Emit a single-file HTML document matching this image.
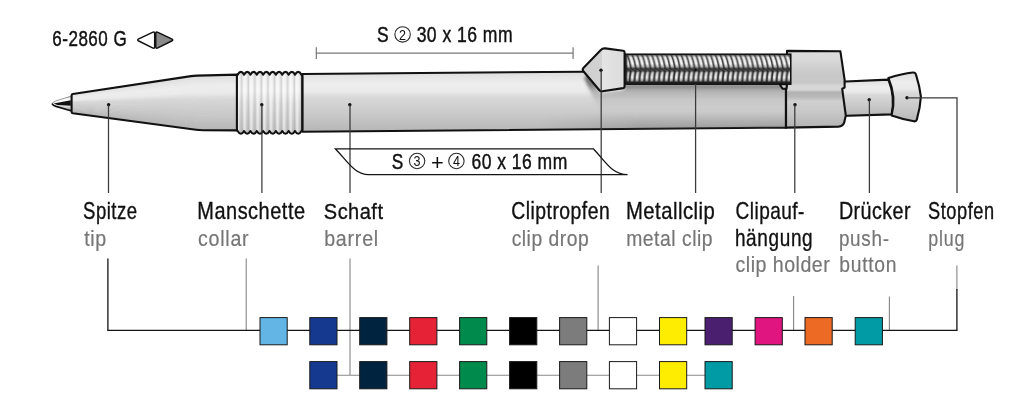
<!DOCTYPE html>
<html lang="de"><head><meta charset="utf-8"><title>6-2860 G</title>
<style>
html,body{margin:0;padding:0;background:#fff}
body{width:1024px;height:408px;overflow:hidden}
svg{display:block}
#labels{opacity:0.999}
text{font-family:"Liberation Sans",sans-serif;white-space:pre}
.k{fill:#111;stroke:#111;stroke-width:0.35px}
.kd{fill:#111;stroke:#111;stroke-width:0.45px}
.p{fill:#111}
.c{fill:#111}
.g{fill:#767676;stroke:#767676;stroke-width:0.22px}
.ln{stroke:#3a3a3a;stroke-width:1.25;fill:none}
.lk{stroke:#151515;stroke-width:1.3;fill:none}
.lg{stroke:#888;stroke-width:1.1;fill:none}
.lg2{stroke:#868686;stroke-width:1.1;fill:none}
.ol{stroke:#111;stroke-width:2.1;stroke-linejoin:round;stroke-linecap:round}
.sw{stroke:#1a1a1a;stroke-width:1}
</style></head><body>
<svg width="1024" height="408" viewBox="0 0 1024 408">
<defs>
<linearGradient id="gb" x1="0" y1="0" x2="0" y2="1">
<stop offset="0" stop-color="#dadada"/><stop offset="0.08" stop-color="#e4e4e4"/><stop offset="0.2" stop-color="#ededed"/><stop offset="0.33" stop-color="#eaeaea"/>
<stop offset="0.43" stop-color="#d8d8d8"/><stop offset="0.7" stop-color="#cacaca"/><stop offset="1" stop-color="#b6b6b6"/>
</linearGradient>
<linearGradient id="gnib" gradientUnits="userSpaceOnUse" x1="0" y1="96" x2="0" y2="111">
<stop offset="0" stop-color="#b0b0b0"/><stop offset="0.18" stop-color="#f6f6f6"/><stop offset="0.3" stop-color="#ffffff"/><stop offset="0.62" stop-color="#e8e8e8"/><stop offset="0.8" stop-color="#c4c4c4"/><stop offset="1" stop-color="#888"/>
</linearGradient>
<linearGradient id="gcol" x1="0" y1="0" x2="0" y2="1">
<stop offset="0" stop-color="#e8e8e8"/><stop offset="0.3" stop-color="#f2f2f2"/>
<stop offset="0.5" stop-color="#dedede"/><stop offset="1" stop-color="#c0c0c0"/>
</linearGradient>
<linearGradient id="ghold" gradientUnits="userSpaceOnUse" x1="0" y1="51" x2="0" y2="127">
<stop offset="0" stop-color="#dddddd"/><stop offset="0.12" stop-color="#d8d8d8"/><stop offset="0.3" stop-color="#c8c8c8"/><stop offset="0.42" stop-color="#c8c8c8"/>
<stop offset="0.46" stop-color="#d8d8d8"/><stop offset="0.51" stop-color="#d6d6d6"/><stop offset="0.545" stop-color="#b2b2b2"/><stop offset="0.6" stop-color="#b8b8b8"/>
<stop offset="0.66" stop-color="#d0d0d0"/><stop offset="0.8" stop-color="#c8c8c8"/><stop offset="1" stop-color="#b4b4b4"/>
</linearGradient>
<linearGradient id="gdrop" x1="0" y1="0" x2="1" y2="0">
<stop offset="0" stop-color="#cfcfcf"/><stop offset="0.45" stop-color="#d2d2d2"/><stop offset="0.46" stop-color="#e4e4e4"/><stop offset="1" stop-color="#dcdcdc"/>
</linearGradient>
<linearGradient id="gshadow" gradientUnits="userSpaceOnUse" x1="0" y1="84" x2="0" y2="118">
<stop offset="0" stop-color="#444" stop-opacity="0.7"/><stop offset="0.2" stop-color="#555" stop-opacity="0.4"/><stop offset="0.45" stop-color="#666" stop-opacity="0.14"/><stop offset="0.7" stop-color="#777" stop-opacity="0.04"/><stop offset="1" stop-color="#888" stop-opacity="0"/>
</linearGradient>
<linearGradient id="gshadow3" gradientUnits="userSpaceOnUse" x1="0" y1="112" x2="0" y2="129">
<stop offset="0" stop-color="#555" stop-opacity="0"/><stop offset="1" stop-color="#555" stop-opacity="0.28"/>
</linearGradient>
<linearGradient id="gshadow2" gradientUnits="userSpaceOnUse" x1="588" y1="92" x2="600" y2="84">
<stop offset="0" stop-color="#666" stop-opacity="0"/><stop offset="1" stop-color="#555" stop-opacity="0.5"/>
</linearGradient>
<linearGradient id="gfade" gradientUnits="userSpaceOnUse" x1="540" y1="0" x2="640" y2="0"><stop offset="0" stop-color="#000"/><stop offset="1" stop-color="#fff"/></linearGradient>
<mask id="mfade" maskUnits="userSpaceOnUse" x="540" y="110" width="252" height="22"><rect x="540" y="110" width="252" height="22" fill="url(#gfade)"/></mask>
<filter id="blur" x="-5%" y="-20%" width="110%" height="140%"><feGaussianBlur stdDeviation="1.6"/></filter>
<pattern id="ridge" x="236.7" y="0" width="6.57" height="10" patternUnits="userSpaceOnUse">
<rect x="0" y="0" width="6.57" height="10" fill="#fff" fill-opacity="0"/>
<rect x="0.3" y="0" width="2.2" height="10" fill="#fff" fill-opacity="0.55"/>
<rect x="4.2" y="0" width="1.6" height="10" fill="#999" fill-opacity="0.35"/>
</pattern>
<pattern id="coilA" x="625" y="55.2" width="4.9" height="14" patternUnits="userSpaceOnUse">
<rect width="4.9" height="14" fill="#3a3a3a"/>
<path d="M-5.3,-0.5 C-3.6,3 -2,9 -1.3,14.5" stroke="#a8a8a8" stroke-width="3.6" fill="none"/>
<path d="M-0.4,-0.5 C1.3,3 2.9,9 3.6,14.5" stroke="#a8a8a8" stroke-width="3.6" fill="none"/>
<path d="M4.5,-0.5 C6.2,3 7.8,9 8.5,14.5" stroke="#a8a8a8" stroke-width="3.6" fill="none"/>
<path d="M-5.1,-0.5 C-3.4,3 -1.8,9 -1.1,14.5" stroke="#fcfcfc" stroke-width="2.3" fill="none"/>
<path d="M-0.2,-0.5 C1.5,3 3.1,9 3.8,14.5" stroke="#fcfcfc" stroke-width="2.3" fill="none"/>
<path d="M4.7,-0.5 C6.4,3 8,9 8.7,14.5" stroke="#fcfcfc" stroke-width="2.3" fill="none"/>
</pattern>
<pattern id="coilB" x="625" y="70.6" width="4.9" height="11.4" patternUnits="userSpaceOnUse">
<rect width="4.9" height="11.4" fill="#2a2a2a"/>
<path d="M3.5,-0.5 C2.6,3.5 2.2,8 2.1,12" stroke="#9c9c9c" stroke-width="3.4" fill="none"/>
<path d="M3.4,-0.5 C2.5,3.5 2.1,8 2,12" stroke="#f8f8f8" stroke-width="2" fill="none"/>
</pattern>
<linearGradient id="gcoil" x1="0" y1="0" x2="0" y2="1">
<stop offset="0" stop-color="#222" stop-opacity="0.6"/><stop offset="0.15" stop-color="#333" stop-opacity="0.1"/><stop offset="0.6" stop-color="#333" stop-opacity="0"/><stop offset="0.8" stop-color="#333" stop-opacity="0.3"/><stop offset="1" stop-color="#1a1a1a" stop-opacity="0.95"/>
</linearGradient>
<linearGradient id="gcoil2" x1="0" y1="0" x2="0" y2="1">
<stop offset="0" stop-color="#1a1a1a" stop-opacity="0.9"/><stop offset="0.2" stop-color="#333" stop-opacity="0.2"/><stop offset="0.6" stop-color="#333" stop-opacity="0"/><stop offset="0.85" stop-color="#333" stop-opacity="0.35"/><stop offset="1" stop-color="#1a1a1a" stop-opacity="0.9"/>
</linearGradient>
</defs>
<rect width="1024" height="408" fill="#fff"/>

<g id="pen">
<path fill="url(#gnib)" d="M70.8,96.2 L56,100.9 Q51.8,102.6 52,103.8 Q52.2,105.2 56,106.5 L70.8,110.9 Z"/>
<path fill="#111" d="M53.6,103.4 L70.8,100.2 L70.8,105.8 L57.5,104.9 Z"/>
<path fill="none" stroke="#8e8e8e" stroke-width="0.9" d="M70.8,96.2 L56,100.9 Q51.8,102.6 52,103.8"/>
<path fill="none" stroke="#111" stroke-width="1.7" stroke-linecap="round" d="M52.4,104.2 Q53,105.4 56,106.4 L70.8,110.7"/>
<polygon fill="#dcdcdc" points="71.6,93.90 120.0,86.56 165.0,79.74 193.6,75.40 199.0,75.26 237.2,74.30 237.2,77.05 199.0,77.97 193.6,78.07 165.0,82.09 120.0,88.42 71.6,95.23"/>
<polygon fill="#e1e1e1" points="71.6,94.63 120.0,87.82 165.0,81.49 193.6,77.47 199.0,77.37 237.2,76.45 237.2,79.19 199.0,80.07 193.6,80.14 165.0,83.84 120.0,89.68 71.6,95.95"/>
<polygon fill="#e5e5e5" points="71.6,95.35 120.0,89.08 165.0,83.24 193.6,79.54 199.0,79.47 237.2,78.59 237.2,81.34 199.0,82.17 193.6,82.20 165.0,85.60 120.0,90.94 71.6,96.68"/>
<polygon fill="#e8e8e8" points="71.6,96.08 120.0,90.34 165.0,85.00 193.6,81.60 199.0,81.57 237.2,80.74 237.2,83.48 199.0,84.27 193.6,84.27 165.0,87.35 120.0,92.20 71.6,97.41"/>
<polygon fill="#ebebeb" points="71.6,96.81 120.0,91.60 165.0,86.75 193.6,83.67 199.0,83.67 237.2,82.88 237.2,85.63 199.0,86.37 193.6,86.34 165.0,89.11 120.0,93.46 71.6,98.13"/>
<polygon fill="#ededed" points="71.6,97.53 120.0,92.86 165.0,88.51 193.6,85.74 199.0,85.77 237.2,85.03 237.2,87.78 199.0,88.47 193.6,88.41 165.0,90.86 120.0,94.72 71.6,98.86"/>
<polygon fill="#ececec" points="71.6,98.26 120.0,94.12 165.0,90.26 193.6,87.81 199.0,87.87 237.2,87.18 237.2,89.92 199.0,90.57 193.6,90.48 165.0,92.61 120.0,95.97 71.6,99.59"/>
<polygon fill="#ebebeb" points="71.6,98.99 120.0,95.37 165.0,92.01 193.6,89.88 199.0,89.97 237.2,89.32 237.2,92.07 199.0,92.67 193.6,92.55 165.0,94.37 120.0,97.23 71.6,100.32"/>
<polygon fill="#eaeaea" points="71.6,99.72 120.0,96.63 165.0,93.77 193.6,91.95 199.0,92.07 237.2,91.47 237.2,94.22 199.0,94.78 193.6,94.61 165.0,96.12 120.0,98.49 71.6,101.04"/>
<polygon fill="#e4e4e4" points="71.6,100.44 120.0,97.89 165.0,95.52 193.6,94.01 199.0,94.18 237.2,93.62 237.2,96.36 199.0,96.88 193.6,96.68 165.0,97.88 120.0,99.75 71.6,101.77"/>
<polygon fill="#dddddd" points="71.6,101.17 120.0,99.15 165.0,97.28 193.6,96.08 199.0,96.28 237.2,95.76 237.2,98.51 199.0,98.98 193.6,98.75 165.0,99.63 120.0,101.01 71.6,102.50"/>
<polygon fill="#d7d7d7" points="71.6,101.90 120.0,100.41 165.0,99.03 193.6,98.15 199.0,98.38 237.2,97.91 237.2,100.65 199.0,101.08 193.6,100.82 165.0,101.38 120.0,102.27 71.6,103.22"/>
<polygon fill="#d5d5d5" points="71.6,102.62 120.0,101.67 165.0,100.78 193.6,100.22 199.0,100.48 237.2,100.05 237.2,102.80 199.0,103.18 193.6,102.89 165.0,103.14 120.0,103.53 71.6,103.95"/>
<polygon fill="#d3d3d3" points="71.6,103.35 120.0,102.93 165.0,102.54 193.6,102.29 199.0,102.58 237.2,102.20 237.2,104.95 199.0,105.28 193.6,104.96 165.0,104.89 120.0,104.79 71.6,104.68"/>
<polygon fill="#d1d1d1" points="71.6,104.08 120.0,104.19 165.0,104.29 193.6,104.36 199.0,104.68 237.2,104.35 237.2,107.09 199.0,107.38 193.6,107.02 165.0,106.64 120.0,106.05 71.6,105.40"/>
<polygon fill="#cfcfcf" points="71.6,104.80 120.0,105.45 165.0,106.04 193.6,106.42 199.0,106.78 237.2,106.49 237.2,109.24 199.0,109.49 193.6,109.09 165.0,108.40 120.0,107.31 71.6,106.13"/>
<polygon fill="#cdcdcd" points="71.6,105.53 120.0,106.71 165.0,107.80 193.6,108.49 199.0,108.89 237.2,108.64 237.2,111.38 199.0,111.59 193.6,111.16 165.0,110.15 120.0,108.56 71.6,106.86"/>
<polygon fill="#cbcbcb" points="71.6,106.26 120.0,107.96 165.0,109.55 193.6,110.56 199.0,110.99 237.2,110.78 237.2,113.53 199.0,113.69 193.6,113.23 165.0,111.91 120.0,109.82 71.6,107.58"/>
<polygon fill="#c9c9c9" points="71.6,106.98 120.0,109.22 165.0,111.31 193.6,112.63 199.0,113.09 237.2,112.93 237.2,115.68 199.0,115.79 193.6,115.30 165.0,113.66 120.0,111.08 71.6,108.31"/>
<polygon fill="#c7c7c7" points="71.6,107.71 120.0,110.48 165.0,113.06 193.6,114.70 199.0,115.19 237.2,115.08 237.2,117.82 199.0,117.89 193.6,117.37 165.0,115.41 120.0,112.34 71.6,109.04"/>
<polygon fill="#c4c4c4" points="71.6,108.44 120.0,111.74 165.0,114.81 193.6,116.77 199.0,117.29 237.2,117.22 237.2,119.97 199.0,119.99 193.6,119.43 165.0,117.17 120.0,113.60 71.6,109.77"/>
<polygon fill="#c2c2c2" points="71.6,109.17 120.0,113.00 165.0,116.57 193.6,118.83 199.0,119.39 237.2,119.37 237.2,122.12 199.0,122.09 193.6,121.50 165.0,118.92 120.0,114.86 71.6,110.49"/>
<polygon fill="#bfbfbf" points="71.6,109.89 120.0,114.26 165.0,118.32 193.6,120.90 199.0,121.49 237.2,121.52 237.2,124.26 199.0,124.20 193.6,123.57 165.0,120.67 120.0,116.12 71.6,111.22"/>
<polygon fill="#bcbcbc" points="71.6,110.62 120.0,115.52 165.0,120.07 193.6,122.97 199.0,123.60 237.2,123.66 237.2,126.41 199.0,126.30 193.6,125.64 165.0,122.43 120.0,117.38 71.6,111.95"/>
<polygon fill="#bababa" points="71.6,111.35 120.0,116.78 165.0,121.83 193.6,125.04 199.0,125.70 237.2,125.81 237.2,128.55 199.0,128.40 193.6,127.71 165.0,124.18 120.0,118.64 71.6,112.67"/>
<polygon fill="#b7b7b7" points="71.6,112.07 120.0,118.04 165.0,123.58 193.6,127.11 199.0,127.80 237.2,127.95 237.2,130.70 199.0,130.50 193.6,129.78 165.0,125.94 120.0,119.90 71.6,113.40"/>
<path class="ol" fill="none" d="M71.6,95.4 Q71.6,94.3 72.8,94 L191,76.1 Q193.6,75.7 197,75.6 L237.2,74.6 L237.2,130.4 L203,130.2 Q199,130.2 196,129.8 L72.8,113.3 Q71.6,113 71.6,111.9 Z"/>
<path class="ol" fill="url(#gb)" d="M302.4,74 L583,71.7 L790,71.7 L790,88 L786,88.6 L786,127.6 L302.4,131.7 Z"/>
<clipPath id="cpb"><path d="M302.4,74 L583,71.7 L790,71.7 L790,88 L786,88.6 L786,127.6 L302.4,131.7 Z"/></clipPath>
<g clip-path="url(#cpb)"><path filter="url(#blur)" d="M588,74 L601,93 L624,90 L624,84 L788,84 L788,118 L604,118 Q594,100 584,78 Z" fill="url(#gshadow)"/><rect x="540" y="112" width="250" height="18" fill="url(#gshadow3)" mask="url(#mfade)"/></g>
<path fill="url(#gcol)" d="M236.9,76.6 Q236.9,74.6 237.70000000000002,74.6 Q240.89,69.20 244.07,74.6 Q247.26,69.20 250.44,74.6 Q253.63,69.20 256.81,74.6 Q260.00,69.20 263.18,74.6 Q266.37,69.20 269.55,74.6 Q272.74,69.20 275.92,74.6 Q279.11,69.20 282.29,74.6 Q285.48,69.20 288.66,74.6 Q291.85,69.20 295.03,74.6 Q298.21,69.20 301.40,74.6 Q302.2,74.6 302.2,76.6 L302.2,129.0 Q302.2,131.0 301.4,131.0 Q298.21,136.60 295.03,131.0 Q291.84,136.60 288.66,131.0 Q285.47,136.60 282.29,131.0 Q279.10,136.60 275.92,131.0 Q272.73,136.60 269.55,131.0 Q266.37,136.60 263.18,131.0 Q260.00,136.60 256.81,131.0 Q253.62,136.60 250.44,131.0 Q247.25,136.60 244.07,131.0 Q240.88,136.60 237.70,131.0 Q236.9,131.0 236.9,129.0 Z"/>
<path fill="url(#ridge)" d="M236.9,76.6 Q236.9,74.6 237.70000000000002,74.6 Q240.89,69.20 244.07,74.6 Q247.26,69.20 250.44,74.6 Q253.63,69.20 256.81,74.6 Q260.00,69.20 263.18,74.6 Q266.37,69.20 269.55,74.6 Q272.74,69.20 275.92,74.6 Q279.11,69.20 282.29,74.6 Q285.48,69.20 288.66,74.6 Q291.85,69.20 295.03,74.6 Q298.21,69.20 301.40,74.6 Q302.2,74.6 302.2,76.6 L302.2,129.0 Q302.2,131.0 301.4,131.0 Q298.21,136.60 295.03,131.0 Q291.84,136.60 288.66,131.0 Q285.47,136.60 282.29,131.0 Q279.10,136.60 275.92,131.0 Q272.73,136.60 269.55,131.0 Q266.37,136.60 263.18,131.0 Q260.00,136.60 256.81,131.0 Q253.62,136.60 250.44,131.0 Q247.25,136.60 244.07,131.0 Q240.88,136.60 237.70,131.0 Q236.9,131.0 236.9,129.0 Z"/>
<path class="ol" fill="none" d="M236.9,76.6 Q236.9,74.6 237.70000000000002,74.6 Q240.89,69.20 244.07,74.6 Q247.26,69.20 250.44,74.6 Q253.63,69.20 256.81,74.6 Q260.00,69.20 263.18,74.6 Q266.37,69.20 269.55,74.6 Q272.74,69.20 275.92,74.6 Q279.11,69.20 282.29,74.6 Q285.48,69.20 288.66,74.6 Q291.85,69.20 295.03,74.6 Q298.21,69.20 301.40,74.6 Q302.2,74.6 302.2,76.6 L302.2,129.0 Q302.2,131.0 301.4,131.0 Q298.21,136.60 295.03,131.0 Q291.84,136.60 288.66,131.0 Q285.47,136.60 282.29,131.0 Q279.10,136.60 275.92,131.0 Q272.73,136.60 269.55,131.0 Q266.37,136.60 263.18,131.0 Q260.00,136.60 256.81,131.0 Q253.62,136.60 250.44,131.0 Q247.25,136.60 244.07,131.0 Q240.88,136.60 237.70,131.0 Q236.9,131.0 236.9,129.0 Z"/>
<path class="ol" fill="url(#gb)" d="M840,81.8 L888.4,79.6 Q895.4,97 891.6,114.4 L840,116 Z"/>
<path class="ol" fill="url(#ghold)" d="M787,50.9 L840.4,51.3 L844.6,79.6 L844.6,87.6 L842.2,88.8 L845.8,115.5 L844.2,122.4 Q843,126.3 838.4,126.6 L786,127.6 L786,88.6 L787,84 Z"/>
<path class="ol" fill="none" d="M786,88.6 L786,127.6"/>
<path class="ol" stroke-width="1.4" fill="#d4d4d4" d="M779.6,84.2 L787,84.2 L786.4,88.8 L782.6,88.8 Z"/>
<rect x="624.6" y="54.2" width="166.2" height="30" fill="#222"/>
<rect x="625" y="55.2" width="165" height="14" fill="url(#coilA)"/>
<rect x="625" y="55.2" width="165" height="14" fill="url(#gcoil)"/>
<rect x="625" y="70.6" width="165" height="11.4" fill="url(#coilB)"/>
<rect x="625" y="70.6" width="165" height="11.4" fill="url(#gcoil2)"/>
<rect x="624.6" y="54.2" width="166.2" height="30" fill="none" stroke="#111" stroke-width="1.5"/>
<rect x="625" y="55" width="2.4" height="28.4" fill="#222" fill-opacity="0.8"/>
<path class="ol" fill="url(#gdrop)" d="M583.4,67.9 L600.8,50 Q602.6,48.1 605.2,48.4 L623.2,50.7 Q624.6,50.9 624.6,52.2 L624.6,86.6 Q624.6,87.8 623.2,88.1 L602.4,91.3 Q600.4,91.6 599.2,90 L583.4,71.2 Q582,69.5 583.4,67.9 Z"/>
<path class="ol" fill="url(#gb)" d="M888.4,78 Q902,73.6 912.8,72.5 Q915.4,72.3 916,74.6 Q919.6,86 920.9,96.6 Q920.2,108 916.8,119.6 Q916.2,121.6 914,121.3 Q903,119.6 891.6,115.6 Q896.6,97 888.4,78 Z"/>
</g>
<g id="leaders">
<circle cx="108.6" cy="104.7" r="1.7" fill="#111"/>
<circle cx="261.8" cy="104.7" r="1.7" fill="#111"/>
<circle cx="349.8" cy="104.7" r="1.7" fill="#111"/>
<circle cx="601" cy="70.2" r="1.7" fill="#111"/>
<circle cx="795" cy="104.7" r="1.7" fill="#111"/>
<circle cx="869.2" cy="99.8" r="1.7" fill="#111"/>
<circle cx="907" cy="97.8" r="1.7" fill="#111"/>
<circle cx="695.6" cy="70" r="1.2" fill="#111"/>
<path class="ln" d="M108.5,105 V193 M261.9,105 V193 M350,105 V193 M601.2,70.5 V193 M695.6,84 V193 M794.8,105 V193 M869.4,100 V193 M907,97.8 H957 V193"/>
<path class="lg2" d="M246.2,258.6 V330.3 M350,258.6 V375.2 M598.1,265.5 V330.3 M793.6,296 V330.3 M889.4,296.6 V330.3 M956.9,265.4 V290"/>
<path class="lk" d="M107.9,258.6 V330.8 M956.9,289 V330.8"/>
<path class="lk" d="M107.4,330.3 H957.4"/>
<path class="lg" d="M337,375.2 H720"/>
<path class="lg" style="stroke:#777;stroke-width:1.2" d="M316.3,53.1 H573.1 M316.3,47.2 V59 M573.1,47.2 V59"/>
<path class="lk" stroke-width="1" d="M335.3,148.8 H593.3 C606,162 612,174.7 627.6,174.7 H368.6 C355,174.7 348,162 335.3,148.8 Z"/>
</g>
<g id="swatches">
<rect class="sw" x="260.0" y="317.6" width="27.2" height="27.2" fill="#62b5e5"/>
<rect class="sw" x="309.8" y="317.6" width="27.2" height="27.2" fill="#15398f"/>
<rect class="sw" x="359.7" y="317.6" width="27.2" height="27.2" fill="#00233f"/>
<rect class="sw" x="409.7" y="317.6" width="27.2" height="27.2" fill="#e62236"/>
<rect class="sw" x="459.6" y="317.6" width="27.2" height="27.2" fill="#008a4b"/>
<rect class="sw" x="509.6" y="317.6" width="27.2" height="27.2" fill="#000000"/>
<rect class="sw" x="559.6" y="317.6" width="27.2" height="27.2" fill="#7c7c7c"/>
<rect class="sw" x="609.4" y="317.6" width="27.2" height="27.2" fill="#ffffff"/>
<rect class="sw" x="659.5" y="317.6" width="27.2" height="27.2" fill="#ffed00"/>
<rect class="sw" x="705.0" y="317.6" width="27.2" height="27.2" fill="#4a1f6f"/>
<rect class="sw" x="755.1" y="317.6" width="27.2" height="27.2" fill="#e0157f"/>
<rect class="sw" x="805.0" y="317.6" width="27.2" height="27.2" fill="#ec6a23"/>
<rect class="sw" x="855.2" y="317.6" width="27.2" height="27.2" fill="#009ba4"/>
<rect class="sw" x="309.8" y="361.6" width="27.2" height="27.2" fill="#15398f"/>
<rect class="sw" x="359.7" y="361.6" width="27.2" height="27.2" fill="#00233f"/>
<rect class="sw" x="409.7" y="361.6" width="27.2" height="27.2" fill="#e62236"/>
<rect class="sw" x="459.6" y="361.6" width="27.2" height="27.2" fill="#008a4b"/>
<rect class="sw" x="509.6" y="361.6" width="27.2" height="27.2" fill="#000000"/>
<rect class="sw" x="559.6" y="361.6" width="27.2" height="27.2" fill="#7c7c7c"/>
<rect class="sw" x="609.4" y="361.6" width="27.2" height="27.2" fill="#ffffff"/>
<rect class="sw" x="659.5" y="361.6" width="27.2" height="27.2" fill="#ffed00"/>
<rect class="sw" x="705.0" y="361.6" width="27.2" height="27.2" fill="#009ba4"/>
</g>
<g id="labels">
<text transform="translate(52.20,46.3) scale(0.76,1)" font-size="22.4" textLength="98.23" lengthAdjust="spacing" class="kd">6-2860 G</text>
<path d="M154.70,33.70 Q154.70,31.30 152.53,32.33 L138.77,38.87 Q136.60,39.90 138.75,40.97 L152.55,47.83 Q154.70,48.90 154.70,46.50 Z" fill="#fff" stroke="#111" stroke-width="1.5" stroke-linejoin="round"/>
<path d="M155.70,33.70 Q155.70,31.30 157.87,32.33 L171.63,38.87 Q173.80,39.90 171.65,40.97 L157.85,47.83 Q155.70,48.90 155.70,46.50 Z" fill="#8a8a8a" stroke="#111" stroke-width="1.5" stroke-linejoin="round"/>
<circle cx="402.6" cy="34.4" r="7.7" fill="none" stroke="#2a2a2a" stroke-width="1.1"/><text x="402.6" y="39.5" font-size="14.4" text-anchor="middle" textLength="7" lengthAdjust="spacingAndGlyphs" class="c">2</text>
<circle cx="417.1" cy="161" r="7.7" fill="none" stroke="#2a2a2a" stroke-width="1.1"/><text x="417.1" y="166.1" font-size="14.4" text-anchor="middle" textLength="7" lengthAdjust="spacingAndGlyphs" class="c">3</text>
<circle cx="456.4" cy="161" r="7.7" fill="none" stroke="#2a2a2a" stroke-width="1.1"/><text x="456.4" y="166.1" font-size="14.4" text-anchor="middle" textLength="7" lengthAdjust="spacingAndGlyphs" class="c">4</text>
<text x="376.93" y="42.2" font-size="22.6" textLength="11.63" lengthAdjust="spacingAndGlyphs" class="kd">S</text>
<text transform="translate(416.64,42.2) scale(0.778,1)" font-size="22.6" textLength="123.33" lengthAdjust="spacing" class="kd">30 x 16 mm</text>
<text x="391.77" y="168.7" font-size="22.6" textLength="11.51" lengthAdjust="spacingAndGlyphs" class="kd">S</text>
<text x="430.90" y="169.6" font-size="22.6" textLength="12.70" lengthAdjust="spacingAndGlyphs" class="p">+</text>
<text transform="translate(471.51,168.7) scale(0.776,1)" font-size="22.6" textLength="123.42" lengthAdjust="spacing" class="kd">60 x 16 mm</text>
<text transform="translate(83.11,219.3) scale(0.805,1)" font-size="23.0" textLength="67.03" lengthAdjust="spacing" class="k">Spitze</text>
<text transform="translate(84.23,245.6) scale(0.9,1)" font-size="21.8" textLength="24.30" lengthAdjust="spacing" class="g">tip</text>
<text transform="translate(197.27,219.3) scale(0.867,1)" font-size="23.0" textLength="124.33" lengthAdjust="spacing" class="k">Manschette</text>
<text transform="translate(198.07,245.6) scale(0.9,1)" font-size="21.8" textLength="56.11" lengthAdjust="spacing" class="g">collar</text>
<text transform="translate(323.79,219.3) scale(0.872,1)" font-size="23.0" textLength="67.88" lengthAdjust="spacing" class="k">Schaft</text>
<text transform="translate(324.18,245.6) scale(0.9,1)" font-size="21.8" textLength="60.03" lengthAdjust="spacing" class="g">barrel</text>
<text transform="translate(511.36,219.3) scale(0.842,1)" font-size="23.0" textLength="116.77" lengthAdjust="spacing" class="k">Cliptropfen</text>
<text transform="translate(511.63,245.6) scale(0.886,1)" font-size="21.8" textLength="86.95" lengthAdjust="spacing" class="g">clip drop</text>
<text transform="translate(625.92,219.3) scale(0.882,1)" font-size="23.0" textLength="100.72" lengthAdjust="spacing" class="k">Metallclip</text>
<text transform="translate(626.22,245.6) scale(0.887,1)" font-size="21.8" textLength="97.42" lengthAdjust="spacing" class="g">metal clip</text>
<text transform="translate(735.61,219.3) scale(0.828,1)" font-size="23.0" textLength="82.93" lengthAdjust="spacing" class="k">Clipauf-</text>
<text transform="translate(734.92,245.6) scale(0.825,1)" font-size="23.0" textLength="94.23" lengthAdjust="spacing" class="k">hängung</text>
<text transform="translate(735.60,271.6) scale(0.899,1)" font-size="21.8" textLength="104.63" lengthAdjust="spacing" class="g">clip holder</text>
<text transform="translate(838.97,219.3) scale(0.857,1)" font-size="23.0" textLength="83.46" lengthAdjust="spacing" class="k">Drücker</text>
<text transform="translate(838.91,245.6) scale(0.866,1)" font-size="21.8" textLength="57.87" lengthAdjust="spacing" class="g">push-</text>
<text transform="translate(839.27,271.6) scale(0.885,1)" font-size="21.8" textLength="64.67" lengthAdjust="spacing" class="g">button</text>
<text transform="translate(928.10,219.3) scale(0.792,1)" font-size="23.0" textLength="83.26" lengthAdjust="spacing" class="k">Stopfen</text>
<text transform="translate(928.17,245.6) scale(0.817,1)" font-size="21.8" textLength="44.21" lengthAdjust="spacing" class="g">plug</text>
</g>
</svg></body></html>
